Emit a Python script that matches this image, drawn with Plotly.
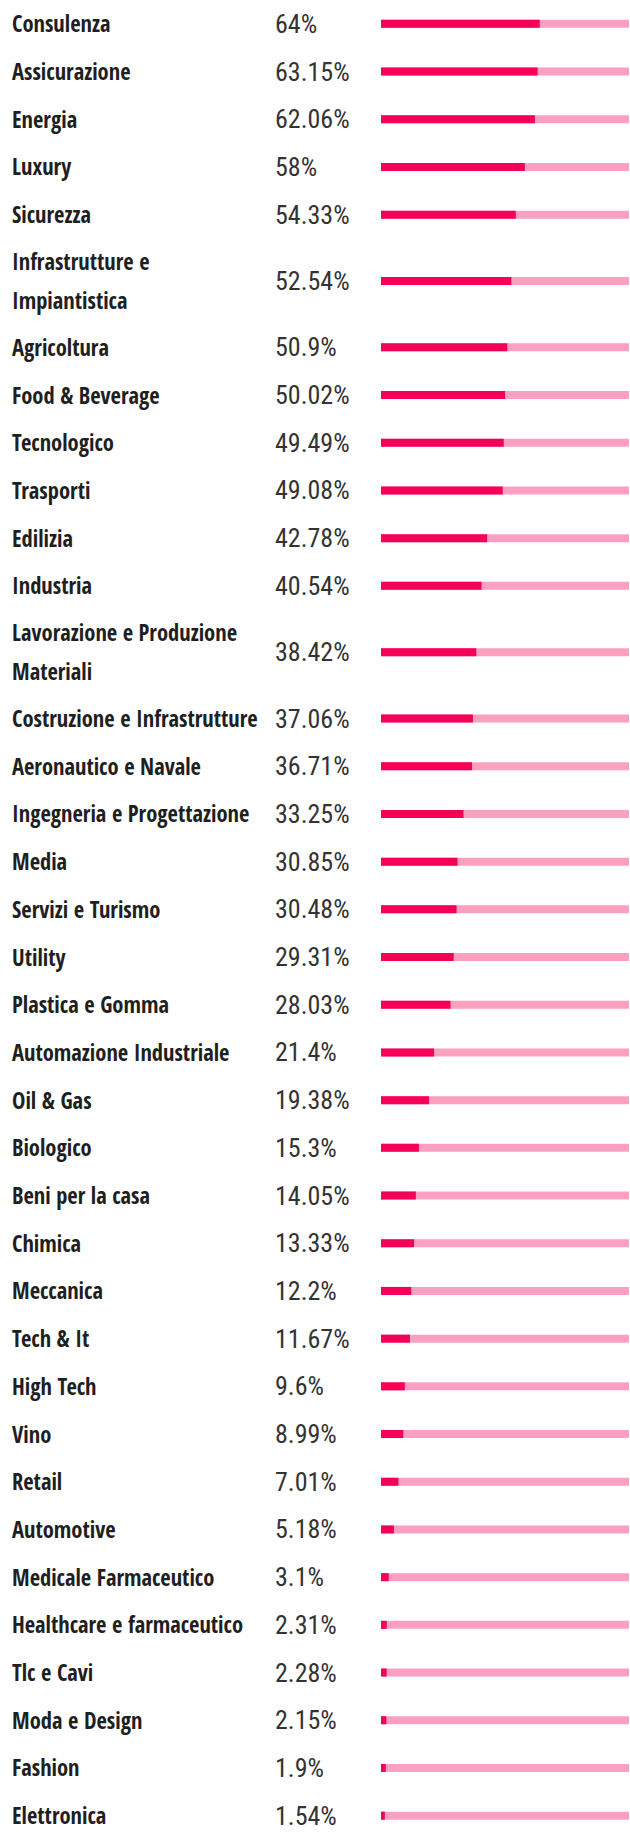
import plotly.graph_objects as go

# Share of companies by sector (%)
sectors = [
    "Consulenza", "Assicurazione", "Energia", "Luxury", "Sicurezza",
    "Infrastrutture e<br>Impiantistica", "Agricoltura", "Food & Beverage",
    "Tecnologico", "Trasporti", "Edilizia", "Industria",
    "Lavorazione e Produzione<br>Materiali", "Costruzione e Infrastrutture",
    "Aeronautico e Navale", "Ingegneria e Progettazione", "Media",
    "Servizi e Turismo", "Utility", "Plastica e Gomma",
    "Automazione Industriale", "Oil & Gas", "Biologico", "Beni per la casa",
    "Chimica", "Meccanica", "Tech & It", "High Tech", "Vino", "Retail",
    "Automotive", "Medicale Farmaceutico", "Healthcare e farmaceutico",
    "Tlc e Cavi", "Moda e Design", "Fashion", "Elettronica",
]
values = [
    64, 63.15, 62.06, 58, 54.33, 52.54, 50.9, 50.02, 49.49, 49.08, 42.78,
    40.54, 38.42, 37.06, 36.71, 33.25, 30.85, 30.48, 29.31, 28.03, 21.4,
    19.38, 15.3, 14.05, 13.33, 12.2, 11.67, 9.6, 8.99, 7.01, 5.18, 3.1,
    2.31, 2.28, 2.15, 1.9, 1.54,
]
full_scale = [100] * len(values)

W, H = 630, 1832
ROW_1 = 47.7      # row height for a one-line label (px)
ROW_2 = 85.0      # row height for a two-line label (px)
LINE_GAP = 38.5   # distance between label lines (px)

# row centres, stacked from the top, in pixel units of the y axis
centers = []
top = 0.0
for name in sectors:
    h = ROW_2 if "<br>" in name else ROW_1
    centers.append(top + h / 2)
    top += h

DEEP = "#F50057"
LIGHT = "#FCA0C1"

fig = go.Figure()
fig.add_trace(go.Bar(
    x=full_scale, y=centers, orientation="h", width=8,
    marker=dict(color=LIGHT, line=dict(width=0)), hoverinfo="skip",
))
fig.add_trace(go.Bar(
    x=values, y=centers, orientation="h", width=8,
    marker=dict(color=DEEP, line=dict(width=0)),
    hovertemplate="%{x}%<extra></extra>",
))

label_font = dict(family="Open Sans Condensed, Roboto Condensed, sans-serif",
                  size=22.5, color="#1f1f1f", weight="bold")
value_font = dict(family="Roboto Condensed, sans-serif", size=26, color="#333333")

annotations = []
for name, v, yc in zip(sectors, values, centers):
    lines = name.split("<br>")
    offset0 = -(len(lines) - 1) * LINE_GAP / 2
    for i, line in enumerate(lines):
        annotations.append(dict(
            text=line, x=10 / W, xref="paper", y=yc + offset0 + i * LINE_GAP, yref="y",
            xanchor="left", yanchor="middle", showarrow=False, font=label_font,
        ))
    annotations.append(dict(
        text=f"{v:g}%", x=273 / W, xref="paper", y=yc, yref="y",
        xanchor="left", yanchor="middle", showarrow=False, font=value_font,
    ))

fig.update_layout(
    width=W, height=H,
    margin=dict(l=0, r=0, t=0, b=0),
    paper_bgcolor="white", plot_bgcolor="white",
    barmode="overlay", showlegend=False,
    xaxis=dict(domain=[381 / W, 629 / W], range=[0, 100], visible=False, fixedrange=True),
    yaxis=dict(range=[H, 0], visible=False, fixedrange=True),
    annotations=annotations,
)

fig.write_html("out.html", config={"displayModeBar": False})
